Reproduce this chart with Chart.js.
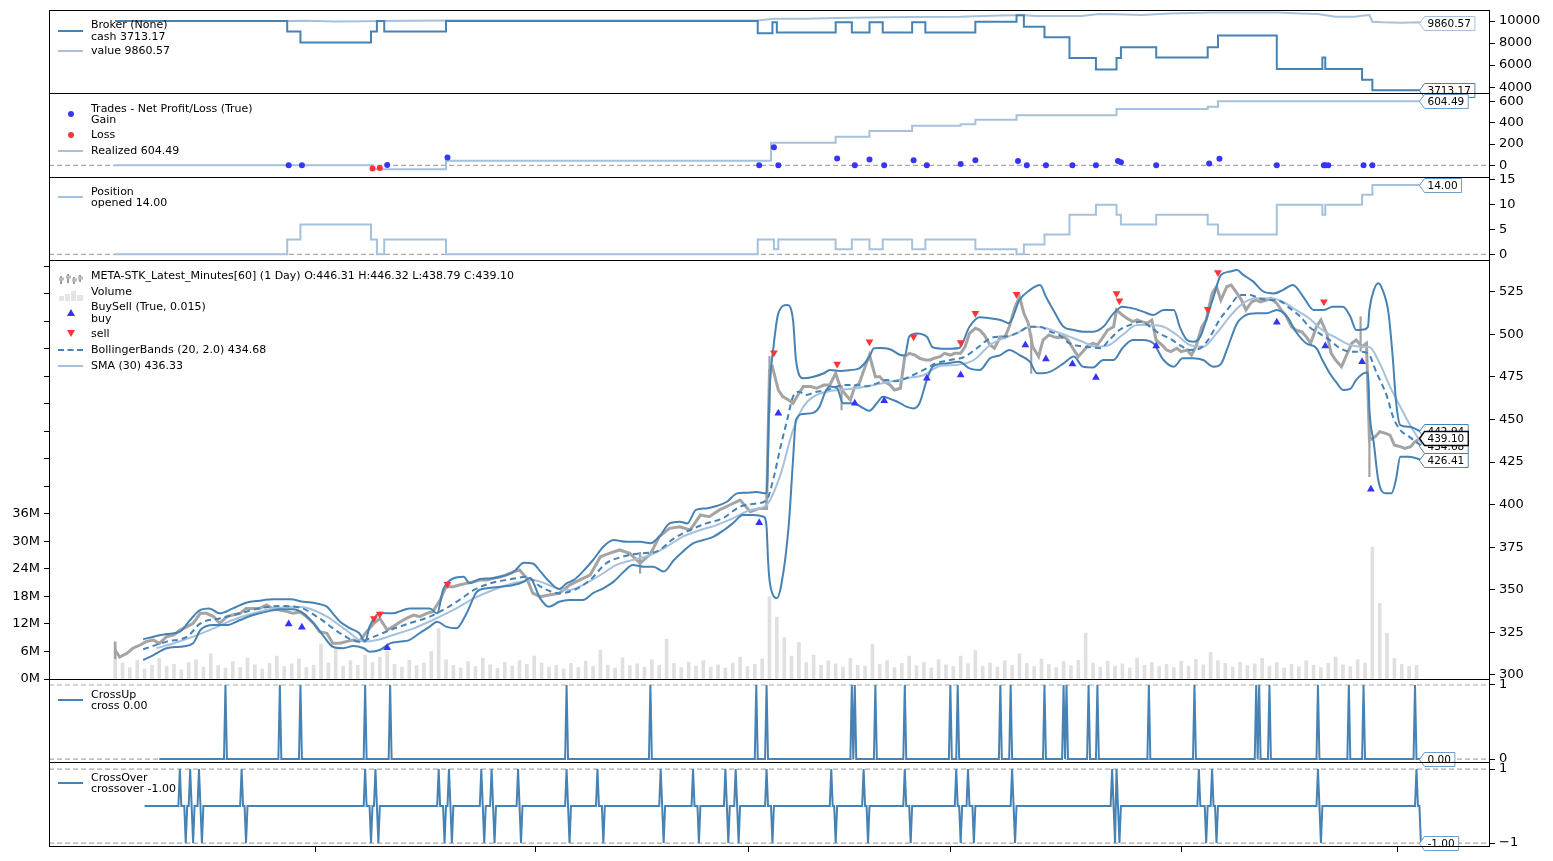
<!DOCTYPE html>
<html>
<head>
<meta charset="utf-8">
<script src="https://cdn.jsdelivr.net/npm/chart.js@4.4.0/dist/chart.umd.min.js"></script>
<style>
  body { margin:0; background:#fff; width:1553px; height:861px; overflow:hidden; position:relative; font-family:"DejaVu Sans", sans-serif; }
  canvas { position:absolute; left:0; }
  .lg { position:absolute; left:91px; font-size:11px; line-height:11.5px; color:#000; white-space:pre; z-index:5; }
  .sw { position:absolute; z-index:5; }
</style>
</head>
<body>
<script>
/* ============================
   Data (bar index, value)
   ============================ */
const X_MIN = -45, X_MAX = 935, LAST_BAR = 888;
const monthTicks = [136, 286, 431, 568, 725, 872];

// broker
const cashSeries = [[0,10000],[117,9040],[126,8045],[174,9040],[178,10000],[183,9040],[225,10000],[437,8890],[447,9880],[450,8950],[490,9880],[501,8950],[513,9880],[522,8950],[542,9880],[551,8950],[585,9940],[613,10520],[618,9490],[632,8530],[649,6640],[667,5610],[681,6640],[684,7630],[708,6700],[743,7630],[750,8680],[790,5650],[821,6700],[823,5650],[848,4680],[855,3713.17],[888,3713.17]];
const valueSeries = [[0,10000],[117,10000],[130,10020],[150,9950],[170,9970],[180,10000],[225,10043],[437,10043],[448,10210],[470,10200],[490,10270],[513,10320],[542,10370],[575,10390],[585,10430],[602,10500],[613,10520],[618,10520],[626,10450],[657,10450],[669,10630],[681,10620],[698,10540],[717,10690],[746,10780],[790,10780],[806,10680],[818,10630],[830,10390],[843,10390],[848,10480],[853,10540],[855,9940],[862,9880],[875,9840],[886,9880],[888,9860.57]];
const brokerTicks = [4000, 6000, 8000, 10000];

// trades
const realizedSeries = [[0,0],[175,-37],[225,43],[446,213],[490,270],[513,324],[542,374],[575,387],[585,430],[613,472],[681,530],[743,552],[750,604.49],[888,604.49]];
const gainTrades = [[118,1],[127,1],[185,2],[226,75],[438,1],[448,170],[451,1],[491,65],[503,1],[513,56],[523,1],[543,47],[552,1],[575,12],[585,47],[614,40],[620,1],[633,1],[651,1],[667,1],[682,40],[684,30],[708,1],[744,18],[751,62],[790,1],[822,1],[823,1],[825,1],[849,1],[855,1]];
const lossTrades = [[175,-30],[180,-25]];
const tradeTicks = [0, 200, 400, 600];

// position
const positionSeries = [[0,0],[117,3],[126,6],[174,3],[178,0],[183,3],[225,0],[437,3],[448,1],[451,3],[490,1],[501,3],[513,1],[522,3],[542,1],[551,3],[585,1],[613,0],[618,2],[632,4],[649,8],[667,10],[681,8],[684,6],[708,8],[743,6],[750,4],[790,10],[821,8],[823,10],[848,12],[855,14],[888,14]];
const positionTicks = [0, 5, 10, 15];

// price closes
const priceClose = [[0,314.7],[3,310.5],[8,312.7],[12,315.7],[17,317.6],[21,319.6],[26,320.5],[30,318.6],[35,322.5],[40,323.5],[44,326.4],[49,328.4],[53,330.3],[58,336.2],[62,336.2],[67,334.3],[71,330.3],[76,334.3],[80,335.2],[85,336.2],[89,339.1],[94,339.1],[98,339.0],[103,341.1],[107,339.0],[112,338.2],[117,337.2],[121,336.2],[126,337.0],[130,334.3],[135,330.3],[139,325.4],[144,324.5],[148,318.6],[153,318.6],[157,319.6],[162,320.5],[166,319.6],[171,325.4],[176,330.3],[180,333.2],[185,326.4],[189,328.4],[194,331.3],[198,333.2],[203,335.2],[207,334.3],[212,336.2],[216,337.2],[221,344.0],[225,351.8],[230,351.8],[234,352.8],[239,353.8],[244,354.8],[248,355.8],[253,355.8],[257,356.7],[262,357.7],[266,358.7],[271,360.6],[275,361.6],[280,356.7],[284,348.0],[289,346.0],[295,347.0],[302,348.0],[309,352.8],[316,355.8],[323,358.7],[330,369.4],[336,371.4],[343,373.4],[350,371.4],[357,365.6],[364,371.0],[370,381.2],[377,386.1],[384,387.0],[391,385.1],[398,393.9],[404,392.9],[411,396.9],[418,399.8],[425,402.7],[432,395.9],[438,397.8],[443,397.8],[445,479.0],[447,480.8],[451,467.3],[454,463.4],[458,461.4],[461,459.5],[465,465.4],[468,469.3],[473,469.3],[477,468.3],[482,470.2],[486,470.2],[490,477.1],[493,469.3],[496,465.4],[500,461.4],[503,469.3],[506,471.2],[510,481.0],[513,487.8],[517,475.1],[520,475.1],[523,472.2],[527,470.2],[530,467.3],[534,468.3],[537,486.9],[540,488.8],[544,487.8],[547,485.9],[551,484.9],[554,484.9],[557,485.9],[561,486.9],[564,488.8],[568,487.8],[571,488.8],[575,488.8],[578,492.7],[581,500.5],[585,503.5],[588,502.5],[591,499.6],[595,493.7],[598,491.8],[602,498.6],[605,498.0],[608,504.4],[612,516.0],[615,522.0],[618,512.3],[621,506.5],[624,492.7],[628,486.9],[631,496.6],[635,499.6],[638,498.6],[641,498.0],[645,498.6],[648,496.6],[652,490.8],[655,486.9],[658,489.8],[662,493.7],[665,494.7],[668,493.7],[672,498.6],[675,502.5],[679,504.4],[681,514.3],[685,511.3],[688,509.4],[692,507.4],[695,508.4],[698,507.4],[702,506.5],[705,508.4],[708,496.6],[712,493.7],[715,490.8],[718,489.8],[722,491.8],[725,489.8],[729,490.8],[732,487.8],[735,492.7],[739,504.4],[742,508.4],[746,524.0],[749,527.9],[752,520.1],[756,527.9],[759,528.9],[763,524.0],[766,520.1],[769,514.3],[773,519.1],[776,520.1],[779,519.0],[783,520.0],[786,521.1],[790,518.1],[793,514.3],[796,511.3],[800,504.4],[803,502.5],[807,501.5],[810,498.6],[813,494.7],[817,504.4],[820,508.4],[824,500.5],[827,488.8],[830,484.9],[834,481.0],[837,486.9],[841,494.7],[844,496.6],[848,492.7],[851,494.7],[853,437.9],[857,439.9],[860,442.8],[864,441.8],[867,440.8],[870,435.0],[874,434.0],[877,433.0],[881,434.0],[884,437.0],[888,439.1]];
// a few long high-low ranges: [bar, low, high]
const priceWicks = [[0,309.5,319.5],[357,359.7,372],[445,454,487],[494,455.6,470],[623,477,500],[847,490,510.3],[853,416.4,446.7]];

const bbTop = [[19,321],[26,322.5],[35,324],[44,325.4],[51,332.3],[58,338.2],[64,339.1],[71,336.2],[80,339.1],[89,342.4],[98,343.6],[108,344.4],[119,344.4],[128,343],[137,342],[144,340.1],[148,336.2],[153,331.3],[160,327.4],[166,324.5],[170,319.6],[173,328.4],[177,334.3],[180,336.6],[185,336.2],[189,336.2],[194,337.5],[200,339.1],[207,339.1],[214,339.1],[219,336.2],[223,349.9],[230,356.7],[237,357.7],[241,353.8],[248,356.4],[255,356.7],[262,357.7],[271,360.6],[278,365.9],[284,365.5],[289,361],[295,355],[302,350.5],[307,353.8],[312,355.8],[318,360.7],[325,367.5],[332,375.3],[339,379.2],[348,378.2],[357,378.2],[364,377.3],[370,381.2],[377,389],[384,390],[389,389],[395,396.9],[402,397.8],[409,399.2],[416,401.7],[423,406.6],[429,407],[436,407.4],[443,406.6],[445,465.4],[448,494.7],[451,512.3],[457,517.2],[461,508.4],[463,484.9],[468,474.2],[475,475.1],[482,477.1],[486,479],[493,478.5],[500,479],[506,480],[513,486.9],[516,491.8],[520,492],[527,491.2],[534,487.8],[537,487.5],[540,498.6],[545,500.5],[552,498.6],[556,492.4],[565,491.5],[574,492],[581,504.4],[588,510],[595,509.4],[602,508.4],[608,506.5],[615,520.1],[622,525.9],[629,528.9],[633,522],[638,514.3],[645,504.4],[652,502.5],[658,501.5],[665,501.5],[672,504.4],[679,512.3],[685,516.2],[692,515.2],[699,513.3],[706,511.3],[713,514.3],[720,514.3],[724,504.4],[729,496.6],[733,495.6],[738,498.6],[742,508.4],[747,522],[752,534.8],[758,536.8],[763,537.7],[767,535],[774,530.9],[781,525],[788,524],[794,525.9],[801,528.9],[808,522],[815,514.3],[822,514.3],[828,516.2],[835,516.2],[840,510.4],[844,502.5],[849,502.8],[852,504.4],[853,514.3],[856,525.9],[859,529.9],[862,525.9],[866,512.3],[869,484.9],[871,461.4],[874,446.7],[880,445.7],[888,442.94]];
const bbMid = [[19,315.1],[35,319.6],[49,322.5],[58,330.3],[71,333.2],[85,336.2],[98,339.1],[112,340.5],[126,339.5],[139,333.2],[153,324.5],[166,319.6],[176,322.5],[187,326.4],[200,330.3],[214,334.3],[225,339.1],[234,344],[244,349.9],[255,353.8],[269,356.2],[280,357.7],[289,352],[302,348],[312,349.9],[323,355.8],[334,365.6],[345,369.4],[357,371.4],[368,372.4],[380,380.2],[391,385.1],[402,389],[413,391.9],[425,398.8],[436,400.7],[443,402.7],[448,416.4],[452,432.1],[457,449.7],[461,463.4],[465,466.3],[470,464.4],[477,466.3],[484,467.3],[491,469.3],[497,470.2],[504,470.2],[511,469.5],[518,471.2],[524,473.2],[531,472.5],[538,474.2],[545,477.1],[552,480],[558,482.9],[568,484.9],[577,486.5],[586,491.8],[595,497.6],[602,498.6],[608,499],[615,501.5],[622,504.4],[629,504.4],[636,501.5],[642,499.6],[649,494.7],[656,493.1],[663,492.4],[670,491.8],[676,496.6],[683,502.5],[690,505.4],[697,507.4],[704,504.4],[710,500.5],[717,497.6],[724,493.7],[731,490.8],[738,491.8],[744,497.6],[751,508.4],[758,516.2],[765,523.1],[772,523.1],[778,521.1],[785,520.1],[792,519.5],[799,515.2],[806,510.4],[812,504.4],[819,500.5],[826,496.6],[833,491.8],[840,489.8],[846,489.8],[852,488.8],[858,477.1],[865,463.4],[869,451.6],[874,443.8],[880,439.9],[888,434.68]];
const bbBot = [[19,308.8],[26,311.7],[35,315.7],[44,316.6],[53,318.6],[58,326.4],[67,329.3],[76,329.3],[85,332.3],[94,335.2],[103,337.2],[112,338.6],[121,338.6],[128,336.2],[135,330.3],[142,322.5],[148,316.6],[155,315.7],[162,317],[169,315.7],[173,313.7],[180,314.7],[187,318.6],[194,319.6],[200,320.5],[207,324.5],[214,328.4],[219,331.3],[225,328.4],[232,327.4],[239,336.2],[246,348.9],[253,350.9],[262,351.8],[271,352.8],[278,354.8],[282,357],[289,345],[295,340.1],[302,343],[309,344],[318,344],[325,348],[332,350.9],[339,354.8],[346,360.7],[352,364.6],[359,363.6],[366,363.6],[373,360.7],[380,367.5],[386,372.4],[393,377.3],[400,379.2],[407,381.2],[414,385.1],[420,389],[427,393.9],[434,393.9],[441,392.9],[443,387],[444,367.5],[445,355.8],[448,346],[450,345.1],[453,352.8],[458,387],[461,426.2],[463,449.7],[468,453.2],[475,454],[479,457.5],[483,466.3],[486,469.3],[491,468.3],[495,459.5],[502,459.5],[509,456.5],[513,455.1],[518,459.5],[522,463.4],[529,461.4],[534,459.5],[538,457.5],[543,456.5],[547,459.5],[552,473.2],[556,481],[565,482.9],[574,483.9],[581,480],[588,479],[595,485.9],[602,487.8],[608,490.8],[615,487.8],[622,483.9],[627,477.1],[631,477.1],[636,478.1],[645,482.9],[652,486.9],[658,481],[665,480.5],[672,484.9],[679,484.9],[685,491.8],[692,496.6],[699,496.6],[706,494.7],[713,484.9],[720,481],[726,485.9],[733,485.9],[740,484.9],[747,481],[752,482.5],[756,490.8],[763,506.5],[769,511.3],[776,512.3],[783,512.3],[790,514.3],[797,510.4],[803,501.5],[810,494.7],[817,491.8],[821,484.9],[826,477.1],[831,471.2],[835,467.3],[840,468],[844,473.2],[849,477.1],[852,477.5],[853,455.6],[856,436],[859,414.5],[864,406.7],[868,406.7],[871,414.5],[874,428.1],[880,428.1],[888,426.41]];
const sma30 = [[28,315.7],[40,318.6],[53,322.5],[67,327.4],[80,332.3],[94,336.2],[108,339.1],[121,340.1],[130,339.5],[144,334.3],[157,326.4],[169,319.6],[178,320.5],[189,323.5],[203,327.4],[216,332.3],[230,338.2],[244,345],[257,349.9],[271,353.8],[284,355.8],[289,354.8],[302,350.5],[309,349.9],[318,352.8],[330,358.7],[341,364.6],[352,367.5],[364,370.4],[375,375.3],[386,381.2],[398,385.1],[409,388],[420,391.9],[432,396.9],[443,399.8],[452,416.4],[461,443.8],[468,457.5],[475,463.4],[484,466.3],[493,467.3],[504,468.3],[516,470.2],[527,472.2],[538,474.2],[550,476.1],[561,481.4],[572,482],[584,484.9],[595,493.7],[604,497.6],[613,500.5],[622,504.4],[631,504],[640,501.5],[649,498.6],[658,495.6],[667,492.7],[676,493.7],[685,499.6],[695,505.4],[704,505.4],[713,504.4],[722,499.6],[731,493.7],[740,492.7],[749,500.5],[758,510.4],[767,518.1],[776,521.1],[785,521.1],[794,519.1],[803,514.3],[812,509.4],[821,502.5],[831,497.6],[840,493.7],[849,492.7],[853,492.5],[860,482.9],[867,469.3],[874,457.5],[880,447.7],[888,436.33]];

const buySignals = [[118,330],[127,328],[185,316],[438,389.4],[451,453.6],[503,459.5],[523,461],[552,474.2],[575,476.1],[619,493.7],[633,485.5],[651,482.6],[667,474.7],[708,493.1],[790,507],[823,493.1],[848,483.9],[854,409]];
const sellSignals = [[176,333.2],[180,335.8],[226,353.2],[448,489.2],[491,482.6],[513,495.6],[543,498.6],[575,495.1],[585,512.3],[613,523.5],[681,524],[683,519.7],[743,514.7],[750,536.2],[822,519.1]];
const priceTicks = [300, 325, 350, 375, 400, 425, 450, 475, 500, 525];

// volume in millions, one value every VOL_STEP bars
const VOL_STEP = 5;
const volumeM = [8.0,3.5,2.5,4.0,2.2,3.0,4.5,2.8,3.2,2.0,3.6,4.2,2.6,5.5,3.0,2.4,3.8,2.5,4.6,3.1,
  2.2,3.4,5.0,2.7,3.3,4.4,2.5,3.0,7.6,3.5,6.5,2.8,4.0,3.0,5.2,3.6,4.8,6.0,3.2,2.6,
  4.1,2.9,3.5,6.0,11.0,4.2,3.0,2.4,3.8,2.7,4.5,3.1,2.3,3.6,2.8,4.0,3.2,5.0,3.5,2.6,
  3.0,2.2,3.4,2.5,3.9,2.8,6.3,3.0,2.4,4.6,2.9,3.3,2.6,4.2,3.0,8.7,3.4,2.5,3.7,2.8,
  4.0,2.6,3.1,2.4,3.5,4.8,2.7,3.2,4.4,18.0,13.5,9.0,5.0,8.0,3.6,5.2,3.0,4.0,3.3,2.6,
  4.5,3.0,2.8,7.6,3.2,4.0,2.5,3.4,5.0,2.9,3.6,2.4,4.2,3.1,2.7,5.0,3.3,6.2,2.8,3.5,
  2.6,4.0,3.0,5.5,3.4,2.7,4.4,3.2,2.5,3.8,2.9,4.1,10.0,3.5,2.6,3.9,2.8,3.3,2.4,4.6,
  3.0,3.6,2.7,3.2,2.5,3.9,2.8,4.3,3.1,5.8,4.0,3.4,2.6,3.7,2.9,3.3,4.5,2.8,3.6,2.4,
  3.2,2.7,4.0,3.0,2.5,3.4,4.8,3.1,2.7,4.2,3.5,28.8,16.5,10.0,4.5,3.2,2.8,3.0];
const volumeTicks = [0,6,12,18,24,30,36,42,48,54,60,66,72,78,84,90];

// cross indicators: bars where the signal fires
const CROSSUP_START = 30, CROSSOVER_START = 20;
const crossUpBars = [75,112,126,170,187,307,364,436,443,501,503,517,537,568,573,602,609,632,645,647,662,668,703,734,776,778,785,818,839,849,884];
const crossOverUp = [44,51,57,86,170,177,220,227,249,256,274,307,328,371,393,415,422,443,487,509,537,572,580,610,678,681,737,746,818,885];
const crossOverDown = [48,53,59,89,174,179,224,229,251,258,276,309,332,373,397,417,424,447,490,512,541,575,584,612,680,683,742,749,820,888];

/* ============================
   Helpers
   ============================ */
const FONT = '"DejaVu Sans", sans-serif';
const DARK = '#4682b4', LIGHT = '#a6c1dc', DASH_GREY = '#aaaaaa';
const toXY = arr => arr.map(p => ({ x: p[0], y: p[1] }));
const minusFmt = v => (v < 0 ? '\u2212' + Math.abs(v) : String(v));

// spikes: 0 on neighbour bars, signal value on the event bar
function spikeSeries(start, events) {
  const m = new Map();
  events.forEach(([b, v]) => m.set(b, v));
  events.forEach(([b]) => {
    [b - 1, b + 1].forEach(n => { if (n <= LAST_BAR && !m.has(n)) m.set(n, 0); });
  });
  if (!m.has(start)) m.set(start, 0);
  if (!m.has(LAST_BAR)) m.set(LAST_BAR, 0);
  return [...m.entries()].sort((a, b) => a[0] - b[0]).map(([x, y]) => ({ x, y }));
}

function refLine(v) {
  return { data: [{ x: X_MIN, y: v }, { x: X_MAX, y: v }], borderColor: DASH_GREY, borderWidth: 1.2,
           borderDash: [5, 3], pointRadius: 0, order: 20 };
}

function mkCanvas(top, bottom, extraBottom) {
  const c = document.createElement('canvas');
  c.width = 1553;
  c.height = bottom - top + 10 + extraBottom;
  c.style.top = (top - 10) + 'px';
  document.body.appendChild(c);
  return c;
}

const framePlugin = {
  id: 'frame',
  afterDraw(chart) {
    const a = chart.chartArea, ctx = chart.ctx;
    ctx.save();
    ctx.strokeStyle = '#000'; ctx.lineWidth = 1;
    ctx.strokeRect(Math.round(a.left) + 0.5, Math.round(a.top) + 0.5,
                   Math.round(a.right - a.left) - 1, Math.round(a.bottom - a.top));
    ctx.restore();
  }
};

function endLabels(items) {
  return {
    id: 'endLabels',
    afterDatasetsDraw(chart) {
      const ctx = chart.ctx;
      ctx.save();
      ctx.font = '10.5px ' + FONT;
      items.forEach(it => {
        const tip = Math.round(chart.scales.x.getPixelForValue(LAST_BAR)) - 1.5;
        const y = Math.round(chart.scales[it.axis || 'y'].getPixelForValue(it.v)) + 0.5;
        const w = ctx.measureText(it.text).width + 7, h = 14, n = 5;
        ctx.beginPath();
        ctx.moveTo(tip, y);
        ctx.lineTo(tip + n, y - h / 2);
        ctx.lineTo(tip + n + w, y - h / 2);
        ctx.lineTo(tip + n + w, y + h / 2);
        ctx.lineTo(tip + n, y + h / 2);
        ctx.closePath();
        ctx.fillStyle = '#fff'; ctx.fill();
        ctx.lineWidth = it.lw || 1; ctx.strokeStyle = it.color; ctx.stroke();
        ctx.fillStyle = '#000'; ctx.textBaseline = 'middle'; ctx.textAlign = 'left';
        ctx.fillText(it.text, tip + n + 3, y + 1);
      });
      ctx.restore();
    }
  };
}

function xAxis(show) {
  const ax = {
    type: 'linear', min: X_MIN, max: X_MAX, offset: false, display: show,
    afterBuildTicks: s => { s.ticks = monthTicks.map(v => ({ value: v })); },
    ticks: { callback: () => '', autoSkip: false },
    grid: { drawOnChartArea: false, drawTicks: true, tickLength: 6, color: '#000', offset: false },
    border: { display: false }
  };
  if (show) ax.afterFit = s => { s.height = 15; s.paddingLeft = 0; s.paddingRight = 0; };
  return ax;
}

function yAxis(pos, min, max, tickVals, fmt, width) {
  return {
    type: 'linear', position: pos, min, max,
    afterBuildTicks: s => { s.ticks = tickVals.map(v => ({ value: v })); },
    ticks: { color: '#000', font: { family: FONT, size: 13 }, padding: 4, autoSkip: false,
             callback: fmt || minusFmt },
    grid: { drawOnChartArea: false, drawTicks: true, tickLength: 5, color: '#000' },
    border: { display: false },
    afterFit: s => { s.width = width; s.paddingTop = 0; s.paddingBottom = 0; }
  };
}

function opts(scales, leftPad, bottomPad) {
  return {
    responsive: false, animation: false, events: [],
    layout: { padding: { top: 10, bottom: bottomPad, left: leftPad, right: 0 } },
    plugins: { legend: { display: false }, tooltip: { enabled: false } },
    scales
  };
}

const line = (data, color, extra) => Object.assign(
  { data: toXY(data), borderColor: color, borderWidth: 2, pointRadius: 0 }, extra || {});
const dots = (data, color, extra) => Object.assign(
  { data: toXY(data), showLine: false, pointRadius: 3, pointBorderWidth: 0,
    pointBackgroundColor: color, borderColor: color, backgroundColor: color }, extra || {});

/* ============================
   Panels
   ============================ */
// Broker
new Chart(mkCanvas(10, 93, 10), {
  type: 'line',
  data: { datasets: [
    line(cashSeries, DARK, { stepped: true }),
    line(valueSeries, LIGHT)
  ] },
  options: opts({ x: xAxis(false), y: yAxis('right', 3470, 11000, brokerTicks, null, 63) }, 49, 10),
  plugins: [framePlugin, endLabels([
    { v: 9860.57, text: '9860.57', color: LIGHT },
    { v: 3713.17, text: '3713.17', color: DARK }
  ])]
});

// Trades
new Chart(mkCanvas(93, 177, 10), {
  type: 'line',
  data: { datasets: [
    dots(gainTrades, '#3535ff', { order: 0 }),
    dots(lossTrades, '#ff3535', { order: 0 }),
    line(realizedSeries, LIGHT, { stepped: true, order: 1 }),
    refLine(0)
  ] },
  options: opts({ x: xAxis(false), y: yAxis('right', -110, 682, tradeTicks, null, 63) }, 49, 10),
  plugins: [framePlugin, endLabels([{ v: 604.49, text: '604.49', color: '#6f9cc8' }])]
});

// Position
new Chart(mkCanvas(177, 260, 10), {
  type: 'line',
  data: { datasets: [
    line(positionSeries, LIGHT, { stepped: true, order: 1 }),
    refLine(0)
  ] },
  options: opts({ x: xAxis(false), y: yAxis('right', -1.15, 15.6, positionTicks, null, 63) }, 49, 10),
  plugins: [framePlugin, endLabels([{ v: 14, text: '14.00', color: '#6f9cc8' }])]
});

// Price + volume
new Chart(mkCanvas(260, 679, 10), {
  type: 'bar',
  data: { datasets: [
    { type: 'line', data: toXY(buySignals), showLine: false, pointStyle: 'triangle', pointRadius: 4.5,
      pointBorderWidth: 0, pointBackgroundColor: '#3333ff', borderColor: '#3333ff', yAxisID: 'y', order: 0 },
    { type: 'line', data: toXY(sellSignals), showLine: false, pointStyle: 'triangle', pointRotation: 180,
      pointRadius: 4.5, pointBorderWidth: 0, pointBackgroundColor: '#ff3333', borderColor: '#ff3333',
      yAxisID: 'y', order: 0 },
    Object.assign(line(bbTop, DARK, { cubicInterpolationMode: 'monotone' }), { type: 'line', yAxisID: 'y', order: 1 }),
    Object.assign(line(bbMid, DARK, { cubicInterpolationMode: 'monotone', borderDash: [6, 4] }), { type: 'line', yAxisID: 'y', order: 1 }),
    Object.assign(line(bbBot, DARK, { cubicInterpolationMode: 'monotone' }), { type: 'line', yAxisID: 'y', order: 1 }),
    Object.assign(line(sma30, LIGHT, { cubicInterpolationMode: 'monotone' }), { type: 'line', yAxisID: 'y', order: 2 }),
    Object.assign(line(priceClose, '#a4a4a4', { borderWidth: 3 }), { type: 'line', yAxisID: 'y', order: 3 }),
    { type: 'bar', data: priceWicks.map(w => ({ x: w[0], y: [w[1], w[2]] })), backgroundColor: '#a0a0a0',
      barThickness: 1.5, grouped: false, yAxisID: 'y', order: 4 },
    { type: 'bar', data: volumeM.map((v, k) => ({ x: k * VOL_STEP, y: v })), backgroundColor: '#e0e0e0',
      barThickness: 3, grouped: false, yAxisID: 'yv', order: 5 }
  ] },
  options: opts({
    x: xAxis(false),
    y: yAxis('right', 297.65, 543.6, priceTicks, null, 63),
    yv: yAxis('left', 0, 91.4, volumeTicks, v => (v <= 36 ? v + 'M' : ''), 49)
  }, 0, 10),
  plugins: [framePlugin, endLabels([
    { v: 442.94, text: '442.94', color: DARK },
    { v: 434.68, text: '434.68', color: DARK },
    { v: 426.41, text: '426.41', color: DARK },
    { v: 439.10, text: '439.10', color: '#000', lw: 1.3 }
  ])]
});

// CrossUp
new Chart(mkCanvas(679, 762, 10), {
  type: 'line',
  data: { datasets: [
    { data: spikeSeries(CROSSUP_START, crossUpBars.map(b => [b, 1])), borderColor: DARK, borderWidth: 2, pointRadius: 0, order: 1 },
    refLine(0), refLine(1)
  ] },
  options: opts({ x: xAxis(false), y: yAxis('right', -0.04, 1.081, [0, 1], null, 63) }, 49, 10),
  plugins: [framePlugin, endLabels([{ v: 0, text: '0.00', color: '#6f9cc8' }])]
});

// CrossOver
new Chart(mkCanvas(762, 846, 15), {
  type: 'line',
  data: { datasets: [
    { data: spikeSeries(CROSSOVER_START, crossOverUp.map(b => [b, 1]).concat(crossOverDown.map(b => [b, -1]))),
      borderColor: DARK, borderWidth: 2, pointRadius: 0, order: 1 },
    refLine(1), refLine(-1)
  ] },
  options: opts({ x: xAxis(true), y: yAxis('right', -1.08, 1.19, [-1, 1], null, 63) }, 49, 0),
  plugins: [framePlugin, endLabels([{ v: -1, text: '-1.00', color: '#6f9cc8' }])]
});

/* ============================
   Legends
   ============================ */
function addText(lines, cy) {
  lines.forEach((t, i) => {
    const d = document.createElement('div');
    d.className = 'lg';
    d.style.top = (cy - 6 + i * 11.5) + 'px';
    d.textContent = t;
    document.body.appendChild(d);
  });
}
function addSwatch(kind, color, y) {
  const d = document.createElement('div');
  d.className = 'sw';
  if (kind === 'line' || kind === 'dash') {
    Object.assign(d.style, { left: '58px', top: (y - 1) + 'px', width: '25px', height: '0px',
      borderTop: '2px ' + (kind === 'dash' ? 'dashed ' : 'solid ') + color });
  } else if (kind === 'dot') {
    Object.assign(d.style, { left: '68px', top: (y - 3) + 'px', width: '6px', height: '6px',
      borderRadius: '50%', background: color });
  } else if (kind === 'up' || kind === 'down') {
    Object.assign(d.style, { left: '67px', top: (y - 4) + 'px', width: '0px', height: '0px',
      borderLeft: '4px solid transparent', borderRight: '4px solid transparent' });
    d.style[kind === 'up' ? 'borderBottom' : 'borderTop'] = '7px solid ' + color;
  } else if (kind === 'ohlc') {
    d.style.left = '58px'; d.style.top = (y - 6) + 'px';
    d.innerHTML = '<svg width="26" height="12"><path d="M3 3v8M10 1v9M16 4v7M22 2v7" stroke="#999" stroke-width="2"/>' +
      '<path d="M1 6h5M8 4h5M14 7h5M20 5h5" stroke="#bbb" stroke-width="3"/></svg>';
  } else if (kind === 'vol') {
    d.style.left = '58px'; d.style.top = (y - 6) + 'px';
    d.innerHTML = '<svg width="26" height="12"><g fill="#e4e4e4"><rect x="1" y="7" width="5" height="5"/>' +
      '<rect x="7" y="5" width="5" height="7"/><rect x="13" y="2" width="5" height="10"/><rect x="19" y="6" width="6" height="6"/></g></svg>';
  }
  document.body.appendChild(d);
}

const legendItems = [
  ['line', DARK, 30.5, ['Broker (None)', 'cash 3713.17'], 25],
  ['line', LIGHT, 51, ['value 9860.57'], 51],
  ['dot', '#3535ff', 114, ['Trades - Net Profit/Loss (True)', 'Gain'], 108.5],
  ['dot', '#ff3535', 135, ['Loss'], 135],
  ['line', LIGHT, 150.5, ['Realized 604.49'], 150.5],
  ['line', LIGHT, 197, ['Position', 'opened 14.00'], 191.5],
  ['ohlc', '#999', 275.5, ['META-STK_Latest_Minutes[60] (1 Day) O:446.31 H:446.32 L:438.79 C:439.10'], 275.5],
  ['vol', '#ddd', 292, ['Volume'], 292],
  ['up', '#3333ff', 313, ['BuySell (True, 0.015)', 'buy'], 307],
  ['down', '#ff3333', 334, ['sell'], 334],
  ['dash', DARK, 350, ['BollingerBands (20, 2.0) 434.68'], 350],
  ['line', LIGHT, 366, ['SMA (30) 436.33'], 366],
  ['line', DARK, 700, ['CrossUp', 'cross 0.00'], 694.5],
  ['line', DARK, 783, ['CrossOver', 'crossover -1.00'], 777.5]
];
legendItems.forEach(([kind, color, sy, lines, ty]) => { addSwatch(kind, color, sy); addText(lines, ty); });
</script>
</body>
</html>
